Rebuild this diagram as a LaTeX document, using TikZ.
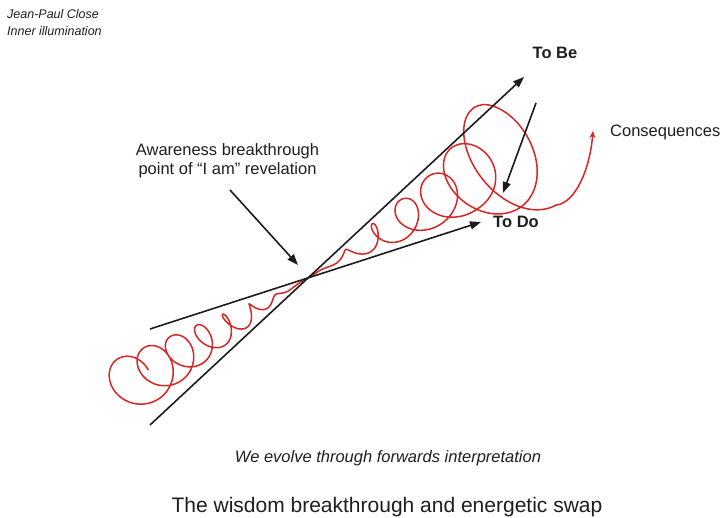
\documentclass[tikz,border=0pt]{standalone}
\usepackage{fontspec}
\setmainfont{Liberation Sans}
\usetikzlibrary{arrows.meta}
\definecolor{inkred}{RGB}{214, 38, 38}
\definecolor{inkdark}{RGB}{28, 28, 28}
\definecolor{txtdark}{RGB}{30, 30, 30}

\begin{document}
\begin{tikzpicture}[
      x=1pt, y=1pt,
      arr/.style={-{Triangle[length=11pt, width=8pt]}, line width=1.6pt, color=inkdark},
      spiral/.style={line width=1.5pt, color=inkred, line join=round, line cap=round},
      lbl/.style={inner sep=0pt, text=txtdark, font=\fontsize{16.5}{19}\selectfont},
      note/.style={inner sep=0pt, text=txtdark, font=\fontsize{12.5}{15}\selectfont\itshape},
      declare function={
        pitch(\t)=ifthenelse(\t<0,4.5,5.9);
        damp(\t)=min(1,abs(pitch(\t)*\t)/70);
        wid(\t)=ifthenelse(\t<0,0.14,0.16)*(1+min(max(\t-30,0),9)*0.07)*damp(\t);
        squash(\t)=ifthenelse(\t<0,0.13*min(1,4.5*abs(\t)/150),0.17*min(1,5.9*\t/120));
        hu(\t)=pitch(\t)*\t*(1+squash(\t)*cos(\t r));
        hv(\t)=pitch(\t)*\t*wid(\t)*sin(\t r);
      }
  ]
    \useasboundingbox (0,0) rectangle (724,-518);

    \node[note, anchor=base west] (author) at (7,-19) {Jean-Paul Close};
    \node[note, anchor=base west] (source) at (7,-36) {Inner illumination};

    \coordinate (beStart) at (150,-425);
    \coordinate (beTip)   at (524,-77);
    \coordinate (doStart) at (150,-329);
    \coordinate (doTip)   at (481,-222);
    \coordinate (swapStart) at (536,-103);
    \coordinate (swapTip)   at (503,-193);
    \coordinate (awStart) at (230,-190);
    \coordinate (awTip)   at (298,-265);
    \coordinate (conseqTip) at (593,-131);

    \node[lbl, font=\fontsize{16.5}{19}\selectfont\bfseries, anchor=base] (tobe) at (555,-59) {To Be};
    \node[lbl, font=\fontsize{16.5}{19}\selectfont\bfseries, anchor=base] (todo) at (516,-228) {To Do};
    \node[lbl, anchor=base west] (conseq) at (610,-137) {Consequences};
    \node[lbl, align=center] (aware) at (227.5,-161) {Awareness breakthrough\\point of “I am” revelation};

    \draw[spiral, -{Stealth[length=7pt, width=6pt]}] plot[domain=-47:42.41, samples=1200]
      ({308+0.857*hu(\x)-0.515*hv(\x)}, {-278+0.515*hu(\x)+0.857*hv(\x)})
      .. controls (576,-203) and (590,-168) .. (conseqTip);

    \draw[arr] (beStart) -- (beTip);
    \draw[arr] (doStart) -- (doTip);
    \draw[arr] (swapStart) -- (swapTip);
    \draw[arr] (awStart) -- (awTip);

    \node[lbl, font=\fontsize{16.5}{19}\selectfont\itshape, anchor=base] (motto) at (388,-463) {We evolve through forwards interpretation};
    \node[lbl, font=\fontsize{21}{25}\selectfont, anchor=base] (title) at (387,-513) {The wisdom breakthrough and energetic swap};
  \end{tikzpicture}
\end{document}
